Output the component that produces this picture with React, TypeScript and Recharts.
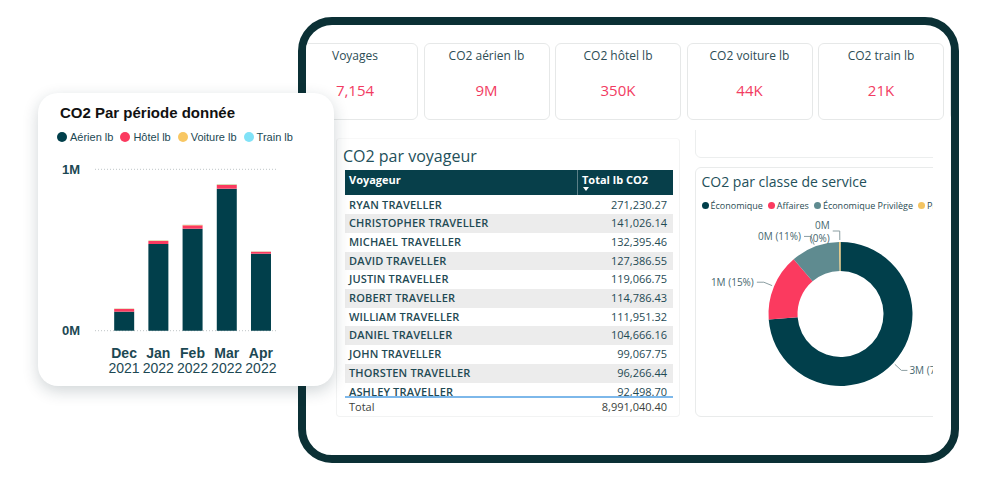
import { Bar, BarChart, CartesianGrid, Cell, Pie, PieChart, XAxis, YAxis } from "recharts";

// CO2 par période donnée (lb)
const months = ["Dec", "Jan", "Feb", "Mar", "Apr"];
const years = ["2021", "2022", "2022", "2022", "2022"];
const aerienLb = [118000, 537000, 632000, 880000, 477000];
const hotelLb = [17000, 19000, 21000, 23000, 12000];
const voitureLb = [2000, 3000, 3000, 4000, 2000];
const trainLb = [1000, 1000, 1000, 2000, 1000];
const yTicks = [0, 1000000];

const seriesKeys = ["aerien", "hotel", "voiture", "train"];
const seriesNames = ["Aérien lb", "Hôtel lb", "Voiture lb", "Train lb"];
const seriesColors = ["#013f4b", "#fb3a5f", "#f8c763", "#80e2f7"];

// KPI cards
const kpiTitles = ["Voyages", "CO2 aérien lb", "CO2 hôtel lb", "CO2 voiture lb", "CO2 train lb", ""];
const kpiValues = ["7,154", "9M", "350K", "44K", "21K", ""];

// CO2 par voyageur
const travellers = [
  "RYAN TRAVELLER",
  "CHRISTOPHER TRAVELLER",
  "MICHAEL TRAVELLER",
  "DAVID TRAVELLER",
  "JUSTIN TRAVELLER",
  "ROBERT TRAVELLER",
  "WILLIAM TRAVELLER",
  "DANIEL TRAVELLER",
  "JOHN TRAVELLER",
  "THORSTEN TRAVELLER",
  "ASHLEY TRAVELLER",
];
const travellerTotals = [
  "271,230.27",
  "141,026.14",
  "132,395.46",
  "127,386.55",
  "119,066.75",
  "114,786.43",
  "111,951.32",
  "104,666.16",
  "99,067.75",
  "96,266.44",
  "92,498.70",
];
const grandTotal = "8,991,040.40";

// CO2 par classe de service
const serviceClasses = ["Économique", "Affaires", "Économique Privilège", "Première"];
const serviceValues = [2960000, 600000, 440000, 12000];
const serviceColors = ["#013f4b", "#fb3a5f", "#5f8b90", "#f3c462"];

const periodData = months.map((month, i) => ({
  month,
  aerien: aerienLb[i],
  hotel: hotelLb[i],
  voiture: voitureLb[i],
  train: trainLb[i],
}));

const serviceData = serviceClasses.map((name, i) => ({ name, value: serviceValues[i] }));

const ARIAL = '"Liberation Sans", Arial, sans-serif';
const SEGOE = '"Open Sans", "Noto Sans", sans-serif';
const TEAL_TEXT = "#1c4853";
const RAD = Math.PI / 180;

function MonthTick(props: any) {
  const { x, y, index } = props;
  return (
    <text x={x} y={y} textAnchor="middle" fill={TEAL_TEXT} fontFamily={ARIAL} fontSize={14}>
      <tspan x={x} dy={27.6} fontWeight="bold">
        {months[index]}
      </tspan>
      <tspan x={x} dy={15}>
        {years[index]}
      </tspan>
    </text>
  );
}

function SliceLabel(props: any) {
  const { cx, cy, midAngle, outerRadius, percent, value } = props;
  const cos = Math.cos(-midAngle * RAD);
  const sin = Math.sin(-midAngle * RAD);
  const sx = cx + (outerRadius + 2) * cos;
  const sy = cy + (outerRadius + 2) * sin;
  const mx = cx + (outerRadius + 11) * cos;
  const my = cy + (outerRadius + 11) * sin;
  const right = cos >= 0;
  const ex = mx + (right ? 6 : -7);
  const tx = ex + (right ? 2 : -3);
  const main = `${Math.round(value / 1000000)}M`;
  const pct = `(${Math.round(percent * 100)}%)`;
  const small = percent < 0.01;
  return (
    <g>
      <polyline points={`${sx},${sy} ${mx},${my} ${ex},${my}`} fill="none" stroke="#8b9ea2" strokeWidth={1} />
      <text
        x={tx}
        y={my}
        textAnchor={right ? "start" : "end"}
        dominantBaseline="central"
        fill="#46676e"
        fontFamily={SEGOE}
        fontSize={10}
      >
        {small ? (
          <>
            <tspan x={tx} dy={-6}>
              {main}
            </tspan>
            <tspan x={tx} dy={13}>
              {pct}
            </tspan>
          </>
        ) : (
          `${main} ${pct}`
        )}
      </text>
    </g>
  );
}

function Dot({ color, size }: { color: string; size: number }) {
  return (
    <span
      style={{
        display: "inline-block",
        width: size,
        height: size,
        borderRadius: "50%",
        background: color,
        flexShrink: 0,
      }}
    />
  );
}

function PeriodCard() {
  return (
    <div
      style={{
        position: "absolute",
        left: 38,
        top: 93,
        width: 296,
        height: 293,
        background: "#fff",
        borderRadius: 20,
        boxShadow: "0 5px 16px rgba(20, 45, 55, 0.2)",
      }}
    >
      <div
        style={{
          position: "absolute",
          left: 22,
          top: 10.5,
          lineHeight: "18px",
          fontFamily: ARIAL,
          fontSize: 15,
          fontWeight: "bold",
          color: "#111",
          whiteSpace: "nowrap",
        }}
      >
        CO2 Par période donnée
      </div>
      <div
        style={{
          position: "absolute",
          left: 19,
          top: 35.5,
          height: 16,
          display: "flex",
          alignItems: "center",
          fontFamily: ARIAL,
          fontSize: 11,
          color: TEAL_TEXT,
          whiteSpace: "nowrap",
        }}
      >
        {seriesNames.map((name, i) => (
          <span key={name} style={{ display: "flex", alignItems: "center", marginRight: 7 }}>
            <Dot color={seriesColors[i]} size={10} />
            <span style={{ marginLeft: 3 }}>{name}</span>
          </span>
        ))}
      </div>
      <div style={{ position: "absolute", left: 2, top: 57 }}>
        <BarChart
          width={250}
          height={235}
          data={periodData}
          margin={{ top: 19.3, right: 12, bottom: 0, left: 0 }}
          barCategoryGap="21%"
        >
          <CartesianGrid vertical={false} stroke="#bfc5c7" strokeDasharray="1 2" />
          <XAxis
            dataKey="month"
            axisLine={false}
            tickLine={false}
            tickSize={0}
            tickMargin={0}
            height={54.3}
            padding={{ left: 12, right: 0 }}
            interval={0}
            tick={<MonthTick />}
          />
          <YAxis
            width={55}
            domain={[0, 1000000]}
            ticks={yTicks}
            axisLine={false}
            tickLine={false}
            tickSize={0}
            tickMargin={15}
            tickFormatter={(v: number) => `${v / 1000000}M`}
            tick={{ fill: TEAL_TEXT, fontFamily: ARIAL, fontSize: 13, fontWeight: "bold" }}
          />
          {seriesKeys.map((key, i) => (
            <Bar
              key={key}
              dataKey={key}
              name={seriesNames[i]}
              stackId="co2"
              fill={seriesColors[i]}
              isAnimationActive={false}
            />
          ))}
        </BarChart>
      </div>
    </div>
  );
}

function KpiRow() {
  return (
    <>
      {kpiTitles.map((title, i) => (
        <div
          key={i}
          style={{
            position: "absolute",
            left: -14 + 131.5 * i,
            top: 17.7,
            width: 126,
            height: 77,
            boxSizing: "border-box",
            border: "1px solid #e6e8e8",
            borderRadius: 6,
            background: "#fff",
            fontFamily: SEGOE,
            textAlign: "center",
          }}
        >
          <div style={{ position: "absolute", left: 0, right: 0, top: 3, lineHeight: "18px", fontSize: 12, color: "#2d4d55" }}>
            {title}
          </div>
          <div style={{ position: "absolute", left: 0, right: 0, top: 36, lineHeight: "20px", fontSize: 15, color: "#f23c62" }}>
            {kpiValues[i]}
          </div>
        </div>
      ))}
    </>
  );
}

function TravellerTable() {
  const rowH = 18.7;
  return (
    <div
      style={{
        position: "absolute",
        left: 30,
        top: 113,
        width: 344,
        height: 279,
        boxSizing: "border-box",
        border: "1px solid #f2f3f3",
        borderTopColor: "#f8f8f8",
        borderRadius: 4,
        fontFamily: SEGOE,
      }}
    >
      <div style={{ position: "absolute", left: 6, top: 7, lineHeight: "20px", fontSize: 16, color: "#23505a", whiteSpace: "nowrap" }}>
        CO2 par voyageur
      </div>
      <div
        style={{
          position: "absolute",
          left: 8,
          top: 31,
          width: 328,
          height: 25,
          background: "#073f4a",
          color: "#fff",
          fontSize: 11,
          fontWeight: 700,
        }}
      >
        <span style={{ position: "absolute", left: 4, top: 1.5, lineHeight: "16px" }}>Voyageur</span>
        <span style={{ position: "absolute", left: 232, top: 0, width: 1, height: 25, background: "#5b7f87" }} />
        <span style={{ position: "absolute", left: 237, top: 1.5, lineHeight: "16px", whiteSpace: "nowrap" }}>Total lb CO2</span>
        <span
          style={{
            position: "absolute",
            left: 238,
            top: 17,
            width: 0,
            height: 0,
            borderLeft: "3.5px solid transparent",
            borderRight: "3.5px solid transparent",
            borderTop: "4px solid #fff",
          }}
        />
      </div>
      <div style={{ position: "absolute", left: 8, top: 56.6, width: 328, height: 201.4, overflow: "hidden" }}>
        {travellers.map((name, i) => (
          <div
            key={name}
            style={{
              position: "absolute",
              left: 0,
              top: i * rowH,
              width: 328,
              height: rowH,
              background: i % 2 === 1 ? "#ececec" : "#fff",
              fontSize: 11,
              fontWeight: 600,
              color: "#1f4a54",
              lineHeight: `${rowH}px`,
            }}
          >
            <span style={{ position: "absolute", left: 4, letterSpacing: 0.15 }}>{name}</span>
            <span style={{ position: "absolute", right: 6, fontWeight: 500 }}>{travellerTotals[i]}</span>
          </div>
        ))}
      </div>
      <div style={{ position: "absolute", left: 8, top: 257, width: 328, height: 2, background: "#7db8ea" }} />
      <div
        style={{
          position: "absolute",
          left: 8,
          top: 259,
          width: 328,
          height: 18,
          lineHeight: "18px",
          fontSize: 11,
          color: "#3b3f40",
        }}
      >
        <span style={{ position: "absolute", left: 4 }}>Total</span>
        <span style={{ position: "absolute", right: 6 }}>{grandTotal}</span>
      </div>
    </div>
  );
}

function ServicePanel() {
  return (
    <div style={{ position: "absolute", left: 388, top: 105, width: 239, height: 295, overflow: "hidden" }}>
      <div
        style={{
          position: "absolute",
          left: 1,
          top: -10,
          width: 270,
          height: 38,
          boxSizing: "border-box",
          border: "1px solid #eceeee",
          borderRadius: 6,
        }}
      />
      <div
        style={{
          position: "absolute",
          left: 1,
          top: 37,
          width: 270,
          height: 250,
          boxSizing: "border-box",
          border: "1px solid #e9ebeb",
          borderRadius: 6,
          fontFamily: SEGOE,
        }}
      >
        <div style={{ position: "absolute", left: 5.5, top: 4.5, lineHeight: "18px", fontSize: 14, color: "#23505a", whiteSpace: "nowrap" }}>
          CO2 par classe de service
        </div>
        <div
          style={{
            position: "absolute",
            left: 5.5,
            top: 31.5,
            height: 12,
            display: "flex",
            alignItems: "center",
            fontSize: 9,
            color: "#2b4c53",
            whiteSpace: "nowrap",
          }}
        >
          {serviceClasses.map((name, i) => (
            <span key={name} style={{ display: "flex", alignItems: "center", marginRight: 5 }}>
              <Dot color={serviceColors[i]} size={7} />
              <span style={{ marginLeft: 2 }}>{name}</span>
            </span>
          ))}
        </div>
        <div style={{ position: "absolute", left: 0, top: 47 }}>
          <PieChart width={238} height={200} margin={{ top: 0, right: 0, bottom: 0, left: 0 }}>
            <Pie
              data={serviceData}
              dataKey="value"
              nameKey="name"
              cx={144.5}
              cy={99}
              innerRadius={43}
              outerRadius={72}
              startAngle={90}
              endAngle={-270}
              stroke="none"
              label={SliceLabel}
              labelLine={false}
              isAnimationActive={false}
            >
              {serviceData.map((d, i) => (
                <Cell key={d.name} fill={serviceColors[i]} />
              ))}
            </Pie>
          </PieChart>
        </div>
      </div>
    </div>
  );
}

export default function App() {
  return (
    <div
      style={{
        position: "fixed",
        left: 0,
        top: 0,
        width: 1000,
        height: 480,
        background: "#fff",
        overflow: "hidden",
      }}
    >
      <div
        style={{
          position: "absolute",
          left: 298,
          top: 17,
          width: 661,
          height: 446,
          boxSizing: "border-box",
          border: "8px solid #0b3035",
          borderRadius: 34,
          background: "#fff",
          overflow: "hidden",
        }}
      >
        <KpiRow />
        <TravellerTable />
        <ServicePanel />
      </div>
      <PeriodCard />
    </div>
  );
}
